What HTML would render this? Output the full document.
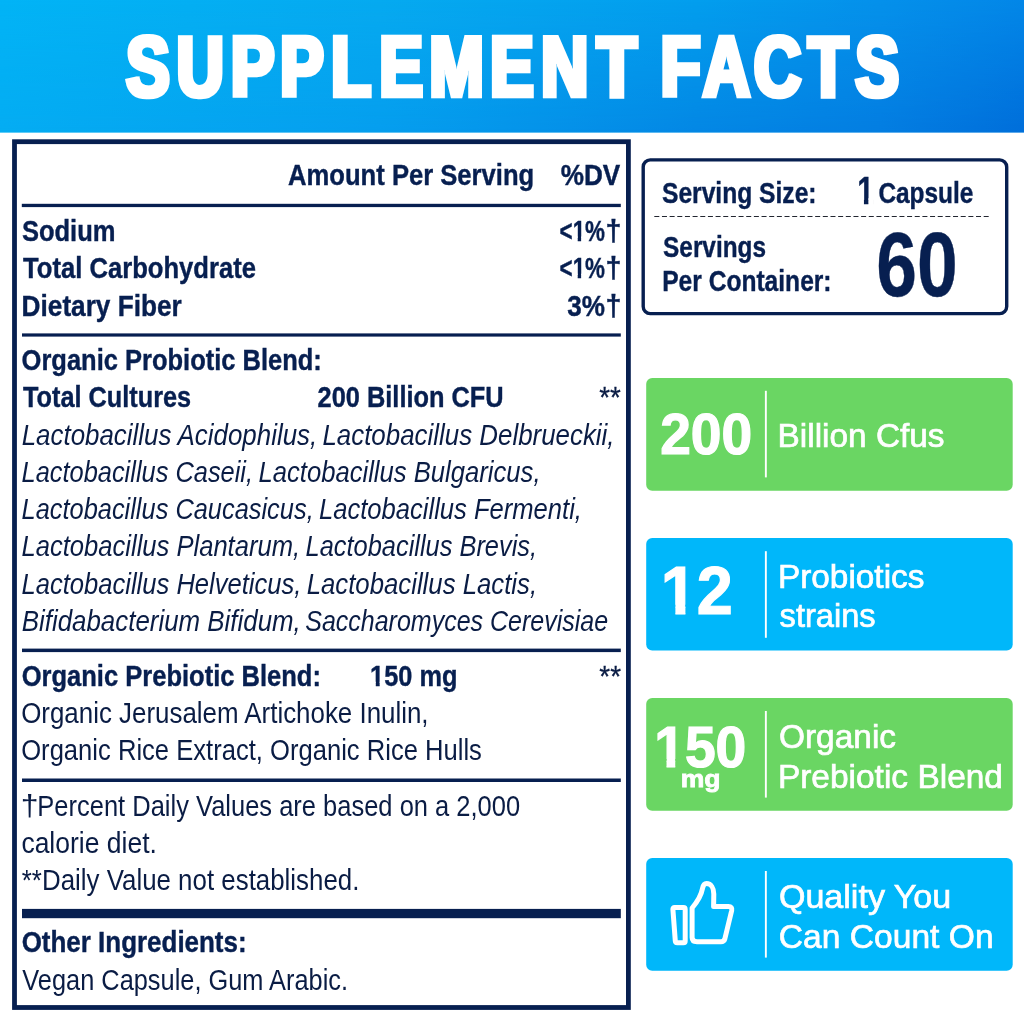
<!DOCTYPE html><html><head><meta charset="utf-8"><style>html,body{margin:0;padding:0;background:#ffffff;overflow:hidden;}svg{display:block;font-family:"Liberation Sans", Arial, Helvetica, sans-serif;}</style></head><body><svg width="1024" height="1012" viewBox="0 0 1024 1012"><defs><filter id="dx1" x="-5%" y="-5%" width="110%" height="110%"><feMorphology operator="dilate" radius="1 0"/></filter></defs><defs><clipPath id="c0" clipPathUnits="userSpaceOnUse"><path clip-rule="evenodd" d="M-500 -500H3000V500H-500Z M18.21 -4.28H24.08V4.00H18.21Z M28.55 -4.28H34.02V4.00H28.55Z"/></clipPath><clipPath id="c1" clipPathUnits="userSpaceOnUse"><path clip-rule="evenodd" d="M-500 -500H3000V500H-500Z M0.87 -4.28H6.73V4.00H0.87Z M11.21 -4.28H16.68V4.00H11.21Z"/></clipPath><clipPath id="c2" clipPathUnits="userSpaceOnUse"><path clip-rule="evenodd" d="M-500 -500H3000V500H-500Z M1.16 -5.43H9.02V4.00H1.16Z M14.84 -5.43H22.18V4.00H14.84Z"/></clipPath><clipPath id="c3" clipPathUnits="userSpaceOnUse"><path clip-rule="evenodd" d="M-500 -500H3000V500H-500Z M2.00 -9.18H15.29V4.00H2.00Z M25.84 -9.18H38.24V4.00H25.84Z"/></clipPath><clipPath id="c4" clipPathUnits="userSpaceOnUse"><path clip-rule="evenodd" d="M-500 -500H3000V500H-500Z M1.67 -7.89H12.73V4.00H1.67Z M21.76 -7.89H32.06V4.00H21.76Z"/></clipPath></defs><defs>
<linearGradient id="hgt" x1="0" y1="0" x2="1024" y2="0" gradientUnits="userSpaceOnUse">
<stop offset="0" stop-color="#02b4f6"/><stop offset="0.37" stop-color="#06aaf0"/><stop offset="0.68" stop-color="#039eee"/><stop offset="0.86" stop-color="#0591eb"/><stop offset="1" stop-color="#0387e8"/>
</linearGradient>
<linearGradient id="hgb" x1="0" y1="0" x2="1024" y2="0" gradientUnits="userSpaceOnUse">
<stop offset="0" stop-color="#04acf2"/><stop offset="0.37" stop-color="#059eee"/><stop offset="0.68" stop-color="#0387e4"/><stop offset="0.86" stop-color="#037de1"/><stop offset="1" stop-color="#006eda"/>
</linearGradient>
<linearGradient id="hgm" x1="0" y1="0" x2="0" y2="132" gradientUnits="userSpaceOnUse">
<stop offset="0" stop-color="#000000"/><stop offset="1" stop-color="#ffffff"/>
</linearGradient>
<mask id="hm" maskUnits="userSpaceOnUse" x="0" y="0" width="1024" height="133"><rect x="0" y="0" width="1024" height="133" fill="url(#hgm)"/></mask>
</defs>
<rect x="0" y="0" width="1024" height="132.4" fill="url(#hgt)"/>
<rect x="0" y="0" width="1024" height="132.4" fill="url(#hgb)" mask="url(#hm)"/>
<!-- main table box -->
<rect x="14.5" y="141.7" width="613.9" height="865.8" fill="none" stroke="#071f50" stroke-width="4.8"/>
<rect x="21.8" y="203.8" width="599" height="3.3" fill="#071f50"/>
<rect x="22" y="333.4" width="598.8" height="3.2" fill="#071f50"/>
<rect x="22" y="648.6" width="598.8" height="3.5" fill="#071f50"/>
<rect x="22" y="778.5" width="598.8" height="3.5" fill="#071f50"/>
<rect x="22" y="908.9" width="598.8" height="9.3" fill="#071f50"/>
<!-- serving box -->
<rect x="643.2" y="159.9" width="363.5" height="153.7" rx="7" ry="7" fill="none" stroke="#071f50" stroke-width="3.4"/>
<line x1="654.3" y1="216.5" x2="989.8" y2="216.5" stroke="#222630" stroke-width="1.2" stroke-dasharray="5 2.66"/>
<!-- badges -->
<rect x="646.2" y="378.1" width="366.5" height="112.6" rx="6" fill="#6ad663"/>
<rect x="646.2" y="538" width="366.5" height="112.6" rx="6" fill="#00b7fa"/>
<rect x="646.2" y="698.1" width="366.5" height="112.6" rx="6" fill="#6ad663"/>
<rect x="646.2" y="858.1" width="366.5" height="112.6" rx="6" fill="#00b7fa"/>
<rect x="764.9" y="390.8" width="1.9" height="86.6" fill="#ffffff"/>
<rect x="764.9" y="551.2" width="1.9" height="86.6" fill="#ffffff"/>
<rect x="764.9" y="711" width="1.9" height="86.6" fill="#ffffff"/>
<rect x="764.9" y="871" width="1.9" height="86.6" fill="#ffffff"/>
<!-- thumb icon -->
<g fill="none" stroke="#ffffff" stroke-width="5" stroke-linejoin="round" stroke-linecap="round">
<path d="M674.6 907.6 L683.4 907.6 Q685.2 907.6 685.2 909.4 L685.2 941 Q685.2 942.8 683.4 942.8 L677.2 942.8 Q675.5 942.8 675.3 941 L672.9 909.4 Q672.8 907.6 674.6 907.6 Z"/>
<path d="M692.1 908 L692.1 937.5 Q692.1 941.7 697 941.7 L721 941.7 Q724 941.7 724.8 939 L731.7 910.5 Q732.5 906.6 728.5 906.6 L713.6 906.6 L713.8 894 C713.8 888 711 883.6 706.5 883.6 C703.5 883.6 703 886 702.5 888.5 C701.5 894 698 901 692.1 908 Z"/>
</g>

<text transform="matrix(0.756 0 0 1 0 96.3)" x="167.03 233.78 305.64 370.86 438.10 501.87 568.12 648.42 715.80 789.67 853.17 874.12 929.82 997.38 1069.04 1131.50" fill="#ffffff" stroke="#ffffff" stroke-width="4.5" stroke-linejoin="miter" filter="url(#dx1)" style="font-size:86.0px;font-weight:bold;">SUPPLEMENT FACTS</text>
<text transform="matrix(0.8621 0 0 1 288.10 185.10)" fill="#071f50" stroke="#071f50" stroke-width="0.4" stroke-linejoin="miter" style="font-size:29.7px;font-weight:bold;">Amount Per Serving</text>
<text transform="matrix(0.8798 0 0 1 560.74 185.10)" fill="#071f50" stroke="#071f50" stroke-width="0.4" stroke-linejoin="miter" style="font-size:29.7px;font-weight:bold;">%DV</text>
<text transform="matrix(0.8602 0 0 1 21.88 241.00)" fill="#071f50" stroke="#071f50" stroke-width="0.4" stroke-linejoin="miter" style="font-size:29.7px;font-weight:bold;">Sodium</text>
<text transform="matrix(0.8627 0 0 1 23.06 278.00)" fill="#071f50" stroke="#071f50" stroke-width="0.4" stroke-linejoin="miter" style="font-size:29.7px;font-weight:bold;">Total Carbohydrate</text>
<text transform="matrix(0.8822 0 0 1 21.62 315.60)" fill="#071f50" stroke="#071f50" stroke-width="0.4" stroke-linejoin="miter" style="font-size:29.7px;font-weight:bold;">Dietary Fiber</text>
<text transform="matrix(0.7542 0 0 1 559.57 240.80)" fill="#071f50" stroke="#071f50" stroke-width="0.4" stroke-linejoin="miter" clip-path="url(#c0)" style="font-size:29.7px;font-weight:bold;">&lt;1%</text>
<text transform="matrix(0.9665 0 0 1 605.60 240.80)" fill="#071f50" stroke="#071f50" stroke-width="0.4" stroke-linejoin="miter" style="font-size:29.7px;font-weight:bold;">†</text>
<text transform="matrix(0.7542 0 0 1 559.57 278.10)" fill="#071f50" stroke="#071f50" stroke-width="0.4" stroke-linejoin="miter" clip-path="url(#c0)" style="font-size:29.7px;font-weight:bold;">&lt;1%</text>
<text transform="matrix(0.9665 0 0 1 605.60 278.10)" fill="#071f50" stroke="#071f50" stroke-width="0.4" stroke-linejoin="miter" style="font-size:29.7px;font-weight:bold;">†</text>
<text transform="matrix(0.8787 0 0 1 567.29 315.50)" fill="#071f50" stroke="#071f50" stroke-width="0.4" stroke-linejoin="miter" style="font-size:29.7px;font-weight:bold;">3%</text>
<text transform="matrix(0.9665 0 0 1 605.60 315.50)" fill="#071f50" stroke="#071f50" stroke-width="0.4" stroke-linejoin="miter" style="font-size:29.7px;font-weight:bold;">†</text>
<text transform="matrix(0.8587 0 0 1 21.55 370.20)" fill="#071f50" stroke="#071f50" stroke-width="0.4" stroke-linejoin="miter" style="font-size:29.7px;font-weight:bold;">Organic Probiotic Blend:</text>
<text transform="matrix(0.8519 0 0 1 22.98 407.00)" fill="#071f50" stroke="#071f50" stroke-width="0.4" stroke-linejoin="miter" style="font-size:29.7px;font-weight:bold;">Total Cultures</text>
<text transform="matrix(0.8547 0 0 1 317.60 407.00)" fill="#071f50" stroke="#071f50" stroke-width="0.4" stroke-linejoin="miter" style="font-size:29.7px;font-weight:bold;">200 Billion CFU</text>
<text transform="matrix(0.9236 0 0 1 599.31 407.30)" fill="#0a1c44" stroke="#0a1c44" stroke-width="0.3" stroke-linejoin="miter" style="font-size:30px;font-weight:normal;">**</text>
<text transform="matrix(0.8775 0 0 1 21.71 445.20)" fill="#0a1c44" style="font-size:29.5px;font-weight:normal;font-style:italic;">Lactobacillus Acidophilus,</text>
<text transform="matrix(0.8777 0 0 1 322.44 445.20)" fill="#0a1c44" style="font-size:29.5px;font-weight:normal;font-style:italic;">Lactobacillus Delbrueckii,</text>
<text transform="matrix(0.8614 0 0 1 21.54 482.30)" fill="#0a1c44" style="font-size:29.5px;font-weight:normal;font-style:italic;">Lactobacillus Caseii,</text>
<text transform="matrix(0.8690 0 0 1 258.47 482.30)" fill="#0a1c44" style="font-size:29.5px;font-weight:normal;font-style:italic;">Lactobacillus Bulgaricus,</text>
<text transform="matrix(0.8611 0 0 1 21.53 518.80)" fill="#0a1c44" style="font-size:29.5px;font-weight:normal;font-style:italic;">Lactobacillus Caucasicus,</text>
<text transform="matrix(0.8671 0 0 1 319.05 518.80)" fill="#0a1c44" style="font-size:29.5px;font-weight:normal;font-style:italic;">Lactobacillus Fermenti,</text>
<text transform="matrix(0.8671 0 0 1 21.53 556.10)" fill="#0a1c44" style="font-size:29.5px;font-weight:normal;font-style:italic;">Lactobacillus Plantarum,</text>
<text transform="matrix(0.8618 0 0 1 305.54 556.10)" fill="#0a1c44" style="font-size:29.5px;font-weight:normal;font-style:italic;">Lactobacillus Brevis,</text>
<text transform="matrix(0.8669 0 0 1 21.52 593.80)" fill="#0a1c44" style="font-size:29.5px;font-weight:normal;font-style:italic;">Lactobacillus Helveticus,</text>
<text transform="matrix(0.8729 0 0 1 306.72 593.80)" fill="#0a1c44" style="font-size:29.5px;font-weight:normal;font-style:italic;">Lactobacillus Lactis,</text>
<text transform="matrix(0.8775 0 0 1 21.71 630.60)" fill="#0a1c44" style="font-size:29.5px;font-weight:normal;font-style:italic;">Bifidabacterium Bifidum,</text>
<text transform="matrix(0.8479 0 0 1 305.25 630.60)" fill="#0a1c44" style="font-size:29.5px;font-weight:normal;font-style:italic;">Saccharomyces Cerevisiae</text>
<text transform="matrix(0.8594 0 0 1 21.72 686.00)" fill="#071f50" stroke="#071f50" stroke-width="0.4" stroke-linejoin="miter" style="font-size:29.7px;font-weight:bold;">Organic Prebiotic Blend:</text>
<text transform="matrix(0.8538 0 0 1 370.06 686.00)" fill="#071f50" stroke="#071f50" stroke-width="0.4" stroke-linejoin="miter" clip-path="url(#c1)" style="font-size:29.7px;font-weight:bold;">150 mg</text>
<text transform="matrix(0.9284 0 0 1 599.32 686.30)" fill="#0a1c44" stroke="#0a1c44" stroke-width="0.3" stroke-linejoin="miter" style="font-size:30px;font-weight:normal;">**</text>
<text transform="matrix(0.8785 0 0 1 21.16 723.30)" fill="#0a1c44" style="font-size:29.5px;font-weight:normal;">Organic Jerusalem Artichoke Inulin,</text>
<text transform="matrix(0.8674 0 0 1 21.22 760.20)" fill="#0a1c44" style="font-size:29.5px;font-weight:normal;">Organic Rice Extract, Organic Rice Hulls</text>
<text transform="matrix(1.0846 0 0 1 20.85 815.60)" fill="#0a1c44" style="font-size:29.5px;font-weight:normal;">†</text>
<text transform="matrix(0.8646 0 0 1 37.33 815.60)" fill="#0a1c44" style="font-size:29.5px;font-weight:normal;">Percent Daily Values are based on a 2,000</text>
<text transform="matrix(0.8983 0 0 1 21.39 853.30)" fill="#0a1c44" style="font-size:29.5px;font-weight:normal;">calorie diet.</text>
<text transform="matrix(0.8774 0 0 1 21.79 890.20)" fill="#0a1c44" style="font-size:29.5px;font-weight:normal;">**Daily Value not established.</text>
<text transform="matrix(0.8742 0 0 1 21.69 951.60)" fill="#071f50" stroke="#071f50" stroke-width="0.4" stroke-linejoin="miter" style="font-size:29.7px;font-weight:bold;">Other Ingredients:</text>
<text transform="matrix(0.8602 0 0 1 22.35 989.70)" fill="#0a1c44" style="font-size:29.5px;font-weight:normal;">Vegan Capsule, Gum Arabic.</text>
<text transform="matrix(0.8348 0 0 1 661.99 203.10)" fill="#071f50" stroke="#071f50" stroke-width="0.4" stroke-linejoin="miter" style="font-size:29.5px;font-weight:bold;">Serving Size:</text>
<text transform="matrix(0.7551 0 0 1 857.14 203.60)" fill="#071f50" stroke="#071f50" stroke-width="0.4" stroke-linejoin="miter" clip-path="url(#c2)" style="font-size:39.5px;font-weight:bold;">1</text>
<text transform="matrix(0.8280 0 0 1 878.39 203.00)" fill="#071f50" stroke="#071f50" stroke-width="0.4" stroke-linejoin="miter" style="font-size:29.5px;font-weight:bold;">Capsule</text>
<text transform="matrix(0.8257 0 0 1 663.10 257.20)" fill="#071f50" stroke="#071f50" stroke-width="0.4" stroke-linejoin="miter" style="font-size:29.5px;font-weight:bold;">Servings</text>
<text transform="matrix(0.8335 0 0 1 662.22 291.20)" fill="#071f50" stroke="#071f50" stroke-width="0.4" stroke-linejoin="miter" style="font-size:29.5px;font-weight:bold;">Per Container:</text>
<text transform="matrix(0.7993 0 0 1 876.33 295.80)" fill="#071f50" stroke="#071f50" stroke-width="0.4" stroke-linejoin="miter" style="font-size:91.6px;font-weight:bold;">60</text>
<text transform="matrix(0.9658 0 0 1 660.15 454.00)" fill="#ffffff" stroke="#ffffff" stroke-width="1.2" stroke-linejoin="miter" style="font-size:57.1px;font-weight:bold;">200</text>
<text transform="matrix(0.9854 0 0 1 777.53 447.40)" fill="#ffffff" stroke="#ffffff" stroke-width="0.7" stroke-linejoin="miter" style="font-size:33.9px;font-weight:normal;">Billion Cfus</text>
<text transform="matrix(0.9504 0 0 1 660.85 614.00)" fill="#ffffff" stroke="#ffffff" stroke-width="1.2" stroke-linejoin="miter" clip-path="url(#c3)" style="font-size:68.1px;font-weight:bold;">12</text>
<text transform="matrix(0.9847 0 0 1 777.92 587.50)" fill="#ffffff" stroke="#ffffff" stroke-width="0.7" stroke-linejoin="miter" style="font-size:33.9px;font-weight:normal;">Probiotics</text>
<text transform="matrix(0.9629 0 0 1 779.58 627.10)" fill="#ffffff" stroke="#ffffff" stroke-width="0.7" stroke-linejoin="miter" style="font-size:33.9px;font-weight:normal;">strains</text>
<text transform="matrix(0.9672 0 0 1 654.21 766.90)" fill="#ffffff" stroke="#ffffff" stroke-width="1.2" stroke-linejoin="miter" clip-path="url(#c4)" style="font-size:57.1px;font-weight:bold;">150</text>
<text transform="matrix(1.1061 0 0 1 680.76 786.50)" fill="#ffffff" stroke="#ffffff" stroke-width="0.8" stroke-linejoin="miter" style="font-size:24px;font-weight:bold;">mg</text>
<text transform="matrix(0.9866 0 0 1 778.97 748.00)" fill="#ffffff" stroke="#ffffff" stroke-width="0.7" stroke-linejoin="miter" style="font-size:33.9px;font-weight:normal;">Organic</text>
<text transform="matrix(0.9874 0 0 1 777.91 787.50)" fill="#ffffff" stroke="#ffffff" stroke-width="0.7" stroke-linejoin="miter" style="font-size:33.9px;font-weight:normal;">Prebiotic Blend</text>
<text transform="matrix(1.0050 0 0 1 778.92 907.50)" fill="#ffffff" stroke="#ffffff" stroke-width="0.7" stroke-linejoin="miter" style="font-size:33.9px;font-weight:normal;">Quality You</text>
<text transform="matrix(0.9912 0 0 1 778.80 947.90)" fill="#ffffff" stroke="#ffffff" stroke-width="0.7" stroke-linejoin="miter" style="font-size:33.9px;font-weight:normal;">Can Count On</text></svg></body></html>
